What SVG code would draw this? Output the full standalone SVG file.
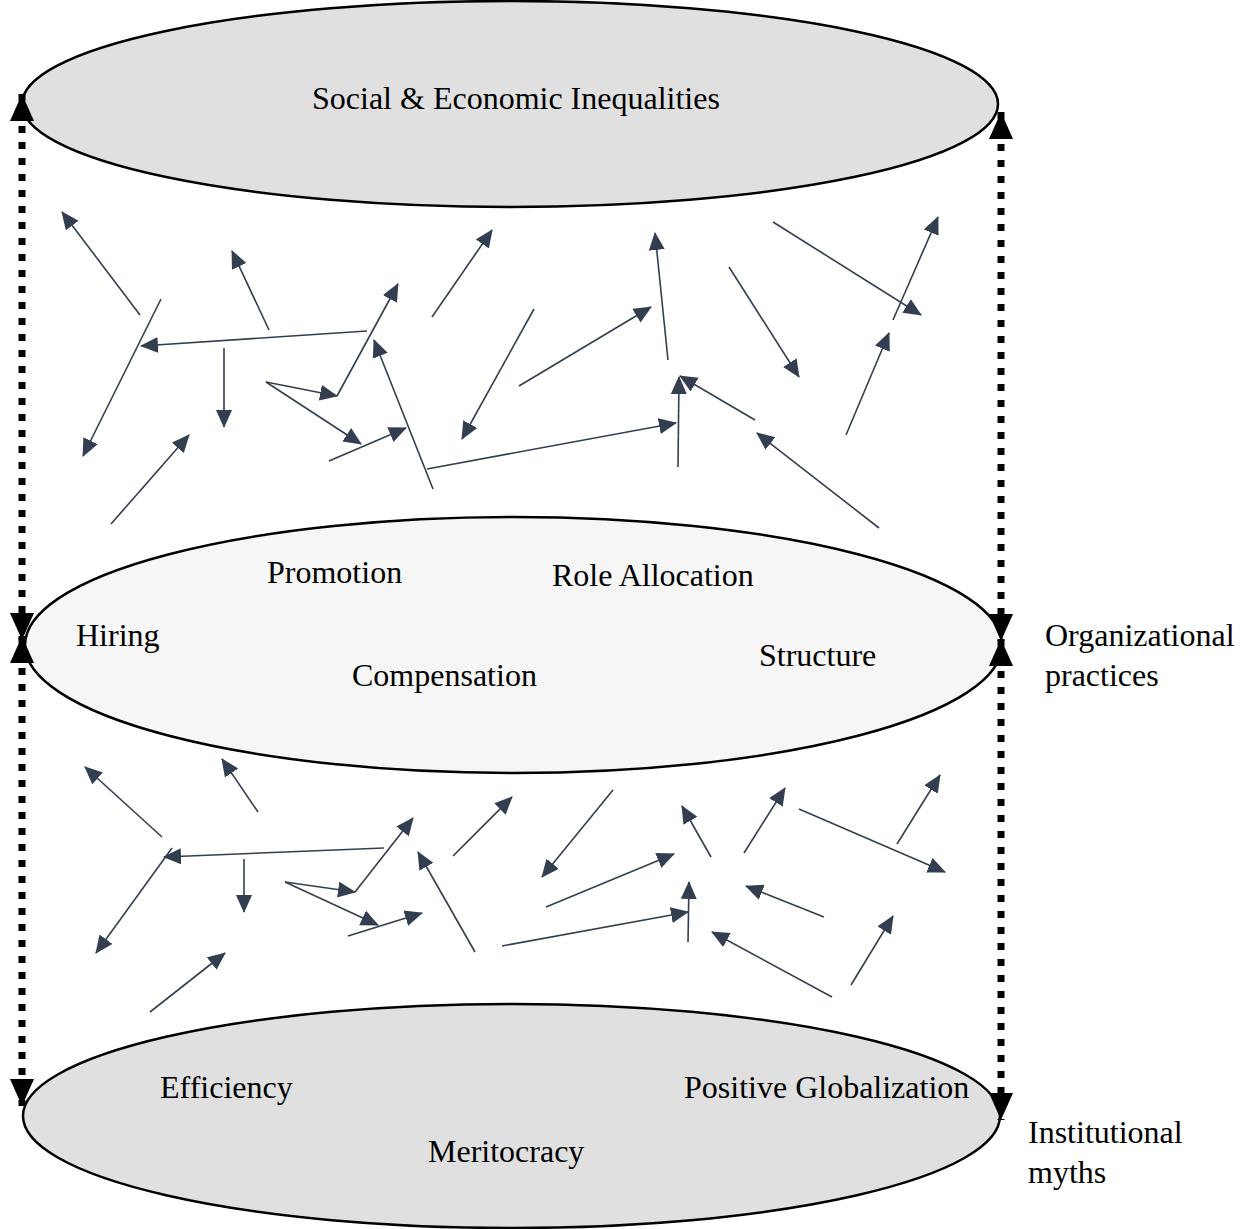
<svg xmlns="http://www.w3.org/2000/svg" width="1247" height="1229" viewBox="0 0 1247 1229">
<style>
.ell{stroke:#000;stroke-width:2.5}
.top{fill:#e0e0e0}
.mid{fill:#f6f6f6}
.t{font-family:"Liberation Serif","Times New Roman",serif;font-size:32px;fill:#000}
.a{stroke:#333f50;stroke-width:1.6;fill:none;marker-end:url(#ah)}
.d{stroke:#000;stroke-width:7;stroke-dasharray:7 9;fill:none;marker-start:url(#dh);marker-end:url(#dh)}
</style>
<defs>
<marker id="ah" markerUnits="userSpaceOnUse" markerWidth="18" markerHeight="17" refX="17" refY="8" orient="auto" viewBox="0 0 18 17">
<path d="M0,0 L18,8 L0,16 z" fill="#333f50"/>
</marker>
<marker id="dh" markerUnits="userSpaceOnUse" markerWidth="28" markerHeight="24" refX="27" refY="12" orient="auto-start-reverse" viewBox="0 0 28 24">
<path d="M0,0 L27,12 L0,24 z" fill="#000"/>
</marker>
</defs>
<g id="node-inequalities">
<ellipse class="ell top" cx="510" cy="104" rx="488" ry="103"/>
<text class="t" x="312" y="109">Social &amp; Economic Inequalities</text>
</g>
<g id="node-practices">
<ellipse class="ell mid" cx="513.5" cy="645" rx="488.5" ry="128"/>
<text class="t" x="267" y="583">Promotion</text>
<text class="t" x="552" y="586">Role Allocation</text>
<text class="t" x="76" y="646">Hiring</text>
<text class="t" x="352" y="686">Compensation</text>
<text class="t" x="759" y="666">Structure</text>
</g>
<g id="node-myths">
<ellipse class="ell top" cx="511.5" cy="1116" rx="488.5" ry="112"/>
<text class="t" x="160" y="1098">Efficiency</text>
<text class="t" x="684" y="1098">Positive Globalization</text>
<text class="t" x="428" y="1162">Meritocracy</text>
</g>
<g id="label-practices">
<text class="t" x="1045" y="646">Organizational</text>
<text class="t" x="1045" y="686">practices</text>
</g>
<g id="label-myths">
<text class="t" x="1028" y="1143">Institutional</text>
<text class="t" x="1028" y="1183">myths</text>
</g>
<g id="connectors">
<line class="d" x1="22" y1="94" x2="22" y2="640"/>
<line class="d" x1="22" y1="636" x2="22" y2="1106"/>
<line class="d" x1="1001" y1="112" x2="1001" y2="641"/>
<line class="d" x1="1001" y1="639" x2="1001" y2="1120"/>

<line class="a" x1="140" y1="315" x2="62" y2="212"/>
<line class="a" x1="161" y1="299" x2="83" y2="456"/>
<line class="a" x1="269" y1="330" x2="232" y2="251"/>
<line class="a" x1="367" y1="331" x2="141" y2="346"/>
<line class="a" x1="224" y1="348" x2="224" y2="427"/>
<line class="a" x1="266" y1="382" x2="337" y2="396"/>
<line class="a" x1="266" y1="382" x2="361" y2="444"/>
<line class="a" x1="337" y1="396" x2="398" y2="284"/>
<line class="a" x1="329" y1="461" x2="406" y2="428"/>
<line class="a" x1="433" y1="489" x2="374" y2="340"/>
<line class="a" x1="427" y1="469" x2="676" y2="423"/>
<line class="a" x1="111" y1="524" x2="189" y2="435"/>
<line class="a" x1="432" y1="317" x2="492" y2="230"/>
<line class="a" x1="534" y1="309" x2="462" y2="439"/>
<line class="a" x1="519" y1="386" x2="651" y2="307"/>
<line class="a" x1="668" y1="360" x2="655" y2="233"/>
<line class="a" x1="678" y1="467" x2="679" y2="377"/>
<line class="a" x1="755" y1="420" x2="680" y2="376"/>
<line class="a" x1="729" y1="267" x2="799" y2="377"/>
<line class="a" x1="773" y1="222" x2="921" y2="315"/>
<line class="a" x1="893" y1="320" x2="938" y2="217"/>
<line class="a" x1="846" y1="435" x2="889" y2="333"/>
<line class="a" x1="879" y1="528" x2="757" y2="433"/>

<line class="a" x1="162" y1="837" x2="85" y2="767"/>
<line class="a" x1="258" y1="812" x2="222" y2="759"/>
<line class="a" x1="172" y1="848" x2="96" y2="953"/>
<line class="a" x1="384" y1="848" x2="164" y2="857"/>
<line class="a" x1="244" y1="859" x2="244" y2="912"/>
<line class="a" x1="285" y1="882" x2="355" y2="892"/>
<line class="a" x1="285" y1="882" x2="378" y2="925"/>
<line class="a" x1="355" y1="892" x2="413" y2="818"/>
<line class="a" x1="348" y1="936" x2="422" y2="913"/>
<line class="a" x1="475" y1="952" x2="418" y2="852"/>
<line class="a" x1="150" y1="1012" x2="225" y2="953"/>
<line class="a" x1="453" y1="856" x2="512" y2="797"/>
<line class="a" x1="613" y1="790" x2="542" y2="877"/>
<line class="a" x1="546" y1="907" x2="674" y2="854"/>
<line class="a" x1="502" y1="946" x2="688" y2="912"/>
<line class="a" x1="688" y1="942" x2="689" y2="882"/>
<line class="a" x1="711" y1="857" x2="682" y2="806"/>
<line class="a" x1="744" y1="853" x2="785" y2="788"/>
<line class="a" x1="799" y1="809" x2="945" y2="872"/>
<line class="a" x1="897" y1="844" x2="940" y2="775"/>
<line class="a" x1="824" y1="917" x2="746" y2="886"/>
<line class="a" x1="832" y1="997" x2="712" y2="932"/>
<line class="a" x1="851" y1="985" x2="893" y2="916"/>
</g>
</svg>
